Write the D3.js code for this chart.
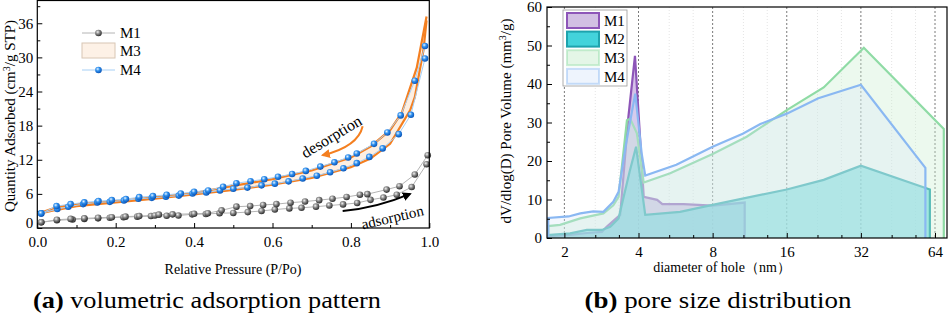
<!DOCTYPE html>
<html>
<head>
<meta charset="utf-8">
<script src="https://cdn.jsdelivr.net/npm/d3@7"></script>
<style>
    body { margin: 0; background: #fff; }
    svg { display: block; font-family: "Liberation Serif", "Times New Roman", Times, serif; }
</style>
</head>
<body>
<div id="chart"></div>
<script>
// ---------- (a) isotherms: [P/Po, quantity] ----------
const m1Ads = [[0.01,1.0],[0.05,1.35],[0.09,1.5],[0.12,1.6],[0.155,1.7],[0.185,1.8],[0.22,1.9],[0.255,2.0],[0.29,2.1],[0.33,2.15],[0.36,2.2],[0.395,2.4],[0.43,2.45],[0.465,2.6],[0.5,2.65],[0.537,2.8],[0.572,3.0],[0.606,3.25],[0.643,3.45],[0.674,3.55],[0.711,3.75],[0.745,3.95],[0.78,4.15],[0.816,4.4],[0.85,4.95],[0.883,5.35],[0.917,5.85],[0.955,7.2],[0.993,11.2]];
const m1Des = [[0.01,1.0],[0.05,1.45],[0.085,1.6],[0.12,1.7],[0.155,1.8],[0.19,1.9],[0.225,2.0],[0.26,2.1],[0.3,2.2],[0.31,2.35],[0.345,2.4],[0.4,2.5],[0.435,2.6],[0.47,3.1],[0.508,3.75],[0.543,3.85],[0.576,4.05],[0.61,4.2],[0.646,4.45],[0.683,4.65],[0.719,4.9],[0.753,5.15],[0.789,5.45],[0.823,5.85],[0.842,5.95],[0.891,6.75],[0.924,7.35],[0.963,9.4],[0.996,12.8]];
const m3Ads = [[0.01,2.6],[0.05,3.2],[0.1,3.85],[0.2,4.5],[0.3,5.15],[0.4,5.9],[0.5,6.7],[0.6,7.6],[0.7,8.8],[0.8,10.7],[0.85,12.2],[0.9,14.8],[0.951,20.7],[0.963,23.0],[0.985,31.2],[0.993,36.5]];
const m3Des = [[0.01,2.7],[0.05,3.7],[0.1,4.15],[0.2,4.75],[0.3,5.4],[0.4,6.15],[0.5,7.4],[0.6,8.6],[0.7,10.1],[0.8,12.4],[0.85,14.3],[0.9,17.2],[0.93,20.3],[0.968,28.2],[0.993,37.2]];
const m4Ads = [[0.01,2.57],[0.051,3.33],[0.079,3.73],[0.117,4.2],[0.153,4.5],[0.185,4.6],[0.221,4.85],[0.258,5.14],[0.292,5.3],[0.328,5.5],[0.361,5.7],[0.396,6.07],[0.431,6.25],[0.466,6.6],[0.5,6.9],[0.536,7.1],[0.572,7.5],[0.606,7.8],[0.641,8.2],[0.677,8.7],[0.713,9.2],[0.747,9.8],[0.781,10.5],[0.815,11.4],[0.847,12.5],[0.881,14.0],[0.922,16.5],[0.953,19.9],[0.989,29.8]];
const m4Des = [[0.01,2.57],[0.049,3.85],[0.085,4.2],[0.12,4.5],[0.156,4.73],[0.19,4.9],[0.226,5.08],[0.26,5.43],[0.295,5.6],[0.33,5.84],[0.366,6.07],[0.4,6.36],[0.436,6.6],[0.474,7.24],[0.508,7.88],[0.544,8.23],[0.579,8.58],[0.614,9.0],[0.65,9.5],[0.685,10.04],[0.722,10.8],[0.758,11.56],[0.793,12.4],[0.815,13.1],[0.859,14.8],[0.893,16.8],[0.927,19.8],[0.963,25.9],[0.989,32.0]];
// curved arrows: start, control, end
const desArrow = [[0.83,17.9],[0.818,14.3],[0.728,12.8]];
const adsArrow = [[0.779,3.0],[0.865,3.5],[0.951,6.0]];
const isoTicksX = [0, 0.2, 0.4, 0.6, 0.8, 1.0];
const isoTicksY = [0, 6, 12, 18, 24, 30, 36];

// ---------- (b) pore size distribution: [diameter nm, dV/dlogD] ----------
const poreM1 = [[1.72,0.5],[2.11,0.8],[2.47,1.3],[2.84,1.6],[2.97,2.9],[3.37,6.0],[3.64,31.5],[3.87,47.3],[4.2,10.7],[4.76,9.9],[5.0,8.8],[6.1,8.8],[8,8.4],[10.8,9.2]];
const poreM2 = [[1.72,0.8],[2.11,1.2],[2.47,2.1],[2.84,2.1],[3.07,2.9],[3.32,5.1],[3.68,17.2],[3.91,23.7],[4.26,6.0],[5.9,6.8],[8,8.6],[10.7,10.3],[16,12.6],[22.6,15.1],[32,18.8],[59,12.9],[61,12.6]];
const poreM3 = [[1.72,3.1],[1.92,3.4],[2.32,5.1],[2.88,6.4],[3.16,8.5],[3.32,10.7],[3.59,30.6],[3.7,31],[3.94,27.2],[4.2,14.4],[5.38,16.8],[8,21.8],[11,26.3],[16,33.2],[22.6,39.1],[32.9,49.4],[69.5,28.3]];
const poreM4 = [[1.72,5.2],[2.08,5.6],[2.32,6.4],[2.62,6.9],[2.88,6.8],[3.16,9.4],[3.32,12],[3.55,24],[3.88,37.5],[4.12,22],[4.26,16.2],[5.7,19.0],[8,23.7],[10.6,27.1],[12.5,29.6],[16,32.3],[21.5,36.3],[32,39.8],[58.5,18.2]];
const poreTicksX = [2, 4, 8, 16, 32, 64];
const poreMinorX = [2.67, 3.33, 5.33, 6.67, 10.67, 13.33, 21.33, 26.67, 42.67, 53.33];
const poreTicksY = [0, 10, 20, 30, 40, 50, 60];

const SERIF = '"Liberation Serif", "Times New Roman", Times, serif';

const svg = d3.select("#chart").append("svg")
    .attr("width", 948)
    .attr("height", 321)
    .attr("font-family", SERIF);

svg.append("rect").attr("width", 948).attr("height", 321).attr("fill", "#fff");

// sphere markers
const defs = svg.append("defs");
function ball(id, c0, c1, c2) {
    const g = defs.append("radialGradient").attr("id", id)
        .attr("cx", "38%").attr("cy", "35%").attr("r", "65%");
    g.append("stop").attr("offset", "0%").attr("stop-color", c0);
    g.append("stop").attr("offset", "45%").attr("stop-color", c1);
    g.append("stop").attr("offset", "100%").attr("stop-color", c2);
}
ball("ballGray", "#f2f2f2", "#8a8a8a", "#2e2e2e");
ball("ballBlue", "#e8f4ff", "#2f90ee", "#0a55b8");

function arrowHead(id, color) {
    defs.append("marker").attr("id", id)
        .attr("viewBox", "0 0 10 10").attr("refX", 8).attr("refY", 5)
        .attr("markerWidth", 4.5).attr("markerHeight", 4.5)
        .attr("orient", "auto")
        .append("path").attr("d", "M0,0 L10,5 L0,10 Z").attr("fill", color);
}
arrowHead("headOrange", "#f47f20");
arrowHead("headBlack", "#000");

function styleAxis(g, size) {
    g.attr("font-family", SERIF).attr("font-size", size);
    g.select(".domain").remove();
    g.selectAll("line").attr("stroke", "#000").attr("stroke-width", 1);
    g.selectAll("text").attr("fill", "#000");
}

// ================= (a) =================
const xA = d3.scaleLinear().domain([0, 1]).range([37.3, 429.3]);
const yA = d3.scaleLinear().domain([0, 40]).range([228, 0.5]);
const gA = svg.append("g");

gA.append("g").attr("transform", "translate(0,228)")
    .call(d3.axisBottom(xA).tickValues(isoTicksX).tickSize(-5).tickPadding(8).tickFormat(d3.format(".1f")))
    .call(g => styleAxis(g, 15));
gA.append("g").attr("transform", "translate(0,228)")
    .call(d3.axisBottom(xA).tickValues([0.1, 0.3, 0.5, 0.7, 0.9]).tickSize(-3).tickFormat(""))
    .call(g => styleAxis(g, 15));
const yAxisA = gA.append("g").attr("transform", "translate(37.3,0)")
    .call(d3.axisLeft(yA).tickValues(isoTicksY).tickSize(-5).tickPadding(4))
    .call(g => styleAxis(g, 15));
gA.append("g").attr("transform", "translate(37.3,0)")
    .call(d3.axisLeft(yA).tickValues([3, 9, 15, 21, 27, 33, 39]).tickSize(-3).tickFormat(""))
    .call(g => styleAxis(g, 15));
// the "0" on y sits a little high, clear of "0.0"
yAxisA.selectAll(".tick text").filter(d => d === 0).attr("dy", "-0.05em");

const lineA = d3.line().x(d => xA(d[0])).y(d => yA(d[1]));

// M3 hysteresis band
gA.append("path")
    .attr("d", lineA(m3Ads.concat(m3Des.slice().reverse())) + "Z")
    .attr("fill", "#fdefe2");
[m3Ads, m3Des].forEach(s => {
    gA.append("path").attr("d", lineA(s)).attr("fill", "none")
        .attr("stroke", "#f47f20").attr("stroke-width", 2.2);
});

// M1 and M4 with markers
function markedSeries(branches, lineColor, grad) {
    branches.forEach(s => {
        gA.append("path").attr("d", lineA(s)).attr("fill", "none")
            .attr("stroke", lineColor).attr("stroke-width", 1);
    });
    branches.forEach(s => {
        gA.append("g").selectAll("circle").data(s).join("circle")
            .attr("cx", d => xA(d[0])).attr("cy", d => yA(d[1]))
            .attr("r", 3.3).attr("fill", `url(#${grad})`);
    });
}
markedSeries([m1Ads, m1Des], "#b4b4b4", "ballGray");
markedSeries([m4Ads, m4Des], "#a6cff5", "ballBlue");

// arrows + notes
function curveArrow(pts, color, head) {
    const p = d3.path();
    p.moveTo(xA(pts[0][0]), yA(pts[0][1]));
    p.quadraticCurveTo(xA(pts[1][0]), yA(pts[1][1]), xA(pts[2][0]), yA(pts[2][1]));
    gA.append("path").attr("d", p.toString()).attr("fill", "none")
        .attr("stroke", color).attr("stroke-width", 2).attr("marker-end", `url(#${head})`);
}
curveArrow(desArrow, "#f47f20", "headOrange");
curveArrow(adsArrow, "#000", "headBlack");

gA.append("text")
    .attr("transform", `translate(${xA(0.75)},${yA(16.1)}) rotate(-31)`)
    .attr("text-anchor", "middle").attr("dy", "0.35em")
    .attr("font-size", 16).text("desorption");
gA.append("text")
    .attr("transform", `translate(${xA(0.906)},${yA(1.9)}) rotate(-13)`)
    .attr("text-anchor", "middle").attr("dy", "0.35em")
    .attr("font-size", 15).text("adsorption");

// legend (a)
const legA = gA.append("g").attr("font-size", 15);
legA.append("line").attr("x1", 82).attr("x2", 115).attr("y1", 33).attr("y2", 33)
    .attr("stroke", "#b4b4b4");
legA.append("circle").attr("cx", 98.5).attr("cy", 33).attr("r", 3.3).attr("fill", "url(#ballGray)");
legA.append("rect").attr("x", 82).attr("y", 43).attr("width", 33).attr("height", 15)
    .attr("fill", "#fdf1e6").attr("stroke", "#d8c6b4");
legA.append("line").attr("x1", 82).attr("x2", 115).attr("y1", 70).attr("y2", 70)
    .attr("stroke", "#a6cff5");
legA.append("circle").attr("cx", 98.5).attr("cy", 70).attr("r", 3.3).attr("fill", "url(#ballBlue)");
["M1", "M3", "M4"].forEach((t, i) => {
    legA.append("text").attr("x", 120).attr("y", [33, 51, 70][i]).attr("dy", "0.35em").text(t);
});

gA.append("rect").attr("x", 37.3).attr("y", 0.5).attr("width", 392).attr("height", 227.5)
    .attr("fill", "none").attr("stroke", "#000").attr("stroke-width", 1.2);

gA.append("text").attr("x", 233).attr("y", 274).attr("text-anchor", "middle")
    .attr("font-size", 14).text("Relative Pressure (P/Po)");
const yTitleA = gA.append("text")
    .attr("transform", "translate(14.5,116) rotate(-90)")
    .attr("text-anchor", "middle").attr("font-size", 15);
yTitleA.append("tspan").text("Quantity Adsorbed (cm");
yTitleA.append("tspan").attr("dy", -5).attr("font-size", 10).text("3");
yTitleA.append("tspan").attr("dy", 5).text("/g STP)");

// ================= (b) =================
const xB = d3.scaleLog().base(2).domain([1.7, 71.6]).range([547, 947]);
const yB = d3.scaleLinear().domain([0, 60]).range([238, 7]);
const gB = svg.append("g");

// vertical guide lines
gB.append("g").selectAll("line").data(poreMinorX).join("line")
    .attr("x1", d => xB(d)).attr("x2", d => xB(d)).attr("y1", 7).attr("y2", 238)
    .attr("stroke", "#e4e4e4").attr("stroke-dasharray", "1,2");
gB.append("g").selectAll("line").data(poreTicksX).join("line")
    .attr("x1", d => xB(d)).attr("x2", d => xB(d)).attr("y1", 7).attr("y2", 238)
    .attr("stroke", "#7a7a7a").attr("stroke-dasharray", "2,2");

const poreSeries = [
    { name: "M1", data: poreM1, fill: "#c3a8de", fo: 0.7, line: "#8d55b8", legFill: "#d2bfe3" },
    { name: "M2", data: poreM2, fill: "#3fd2da", fo: 0.6, line: "#1ea3ad", legFill: "#43d3db" },
    { name: "M3", data: poreM3, fill: "#c8eecd", fo: 0.35, line: "#8fdba5", legFill: "#e4f6e7" },
    { name: "M4", data: poreM4, fill: "#d7e6fa", fo: 0.3, line: "#8ab8f2", legFill: "#eef4fd" }
];

const areaB = d3.area().x(d => xB(d[0])).y0(yB(0)).y1(d => yB(d[1]));
const lineB = d3.line().x(d => xB(d[0])).y(d => yB(d[1]));

poreSeries.forEach(s => {
    const pts = [[s.data[0][0], 0]].concat(s.data, [[s.data[s.data.length - 1][0], 0]]);
    gB.append("path").attr("d", areaB(s.data))
        .attr("fill", s.fill).attr("fill-opacity", s.fo);
    gB.append("path").attr("d", lineB(pts)).attr("fill", "none")
        .attr("stroke", s.line).attr("stroke-width", 2.2);
});

gB.append("g").attr("transform", "translate(0,238)")
    .call(d3.axisBottom(xB).tickValues(poreTicksX).tickSize(-5).tickPadding(8).tickFormat(d3.format("d")))
    .call(g => styleAxis(g, 15));
gB.append("g").attr("transform", "translate(0,238)")
    .call(d3.axisBottom(xB).tickValues(poreMinorX).tickSize(-3).tickFormat(""))
    .call(g => styleAxis(g, 15));
gB.append("g").attr("transform", "translate(547,0)")
    .call(d3.axisLeft(yB).tickValues(poreTicksY).tickSize(-5).tickPadding(5))
    .call(g => styleAxis(g, 15));
gB.append("g").attr("transform", "translate(547,0)")
    .call(d3.axisLeft(yB).tickValues([5, 15, 25, 35, 45, 55]).tickSize(-3).tickFormat(""))
    .call(g => styleAxis(g, 15));

// legend (b)
const legB = gB.append("g").attr("font-size", 15);
legB.append("rect").attr("x", 563).attr("y", 10).attr("width", 64).attr("height", 76)
    .attr("fill", "#fff").attr("stroke", "#9a9a9a").attr("stroke-width", 0.8);
poreSeries.forEach((s, i) => {
    const y = 13 + i * 18.6;
    legB.append("rect").attr("x", 567).attr("y", y).attr("width", 32).attr("height", 15)
        .attr("fill", s.legFill).attr("stroke", s.line).attr("stroke-width", 2)
        .attr("stroke-opacity", i > 1 ? 0.45 : 1);
    legB.append("text").attr("x", 604).attr("y", y + 7.5).attr("dy", "0.35em").text(s.name);
});

gB.append("rect").attr("x", 547).attr("y", 7).attr("width", 400).attr("height", 231)
    .attr("fill", "none").attr("stroke", "#000").attr("stroke-width", 1.2);

gB.append("text").attr("x", 722).attr("y", 272).attr("text-anchor", "middle")
    .attr("font-size", 14)
    .text("diameter of hole（nm）");
const yTitleB = gB.append("text")
    .attr("transform", "translate(511,121) rotate(-90)")
    .attr("text-anchor", "middle").attr("font-size", 15);
yTitleB.append("tspan").text("dV/dlog(D) Pore Volume (mm");
yTitleB.append("tspan").attr("dy", -5).attr("font-size", 10).text("3");
yTitleB.append("tspan").attr("dy", 5).text("/g)");

// ---------- captions ----------
function caption(x, tag, rest, len) {
    const t = svg.append("text").attr("x", x).attr("y", 308).attr("text-anchor", "middle")
        .attr("font-size", 23).attr("textLength", len).attr("lengthAdjust", "spacingAndGlyphs");
    t.append("tspan").attr("font-weight", "bold").text(tag);
    t.append("tspan").text(" " + rest);
}
caption(207, "(a)", "volumetric adsorption pattern", 348);
caption(718, "(b)", "pore size distribution", 267);
</script>
</body>
</html>
